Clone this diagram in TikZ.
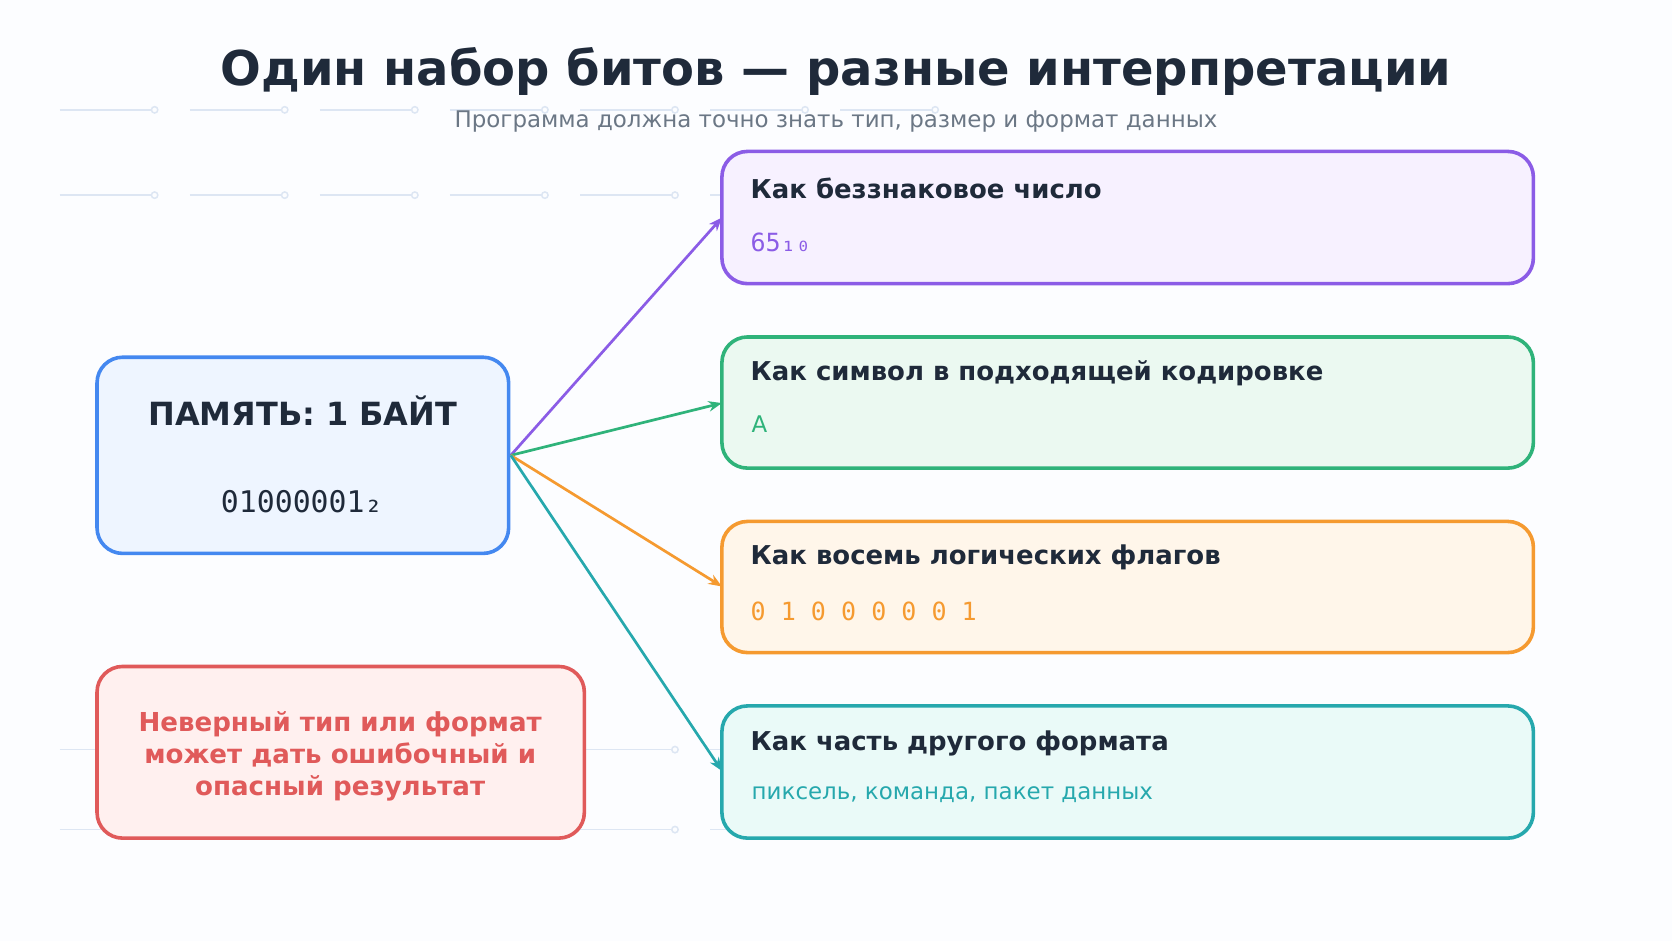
\documentclass[tikz,border=0pt]{standalone}
\usepackage{fontspec}
\setmainfont{DejaVu Sans}
\setmonofont{DejaVu Sans Mono}
\usepackage{tikz}
\usetikzlibrary{calc, arrows.meta}

\definecolor{ink}{HTML}{1F2A3A}
\definecolor{muted}{HTML}{6B7785}
\definecolor{bgc}{HTML}{FCFDFF}
\definecolor{gridc}{HTML}{DDE6F3}
\definecolor{blueS}{HTML}{4488F0}\definecolor{blueF}{HTML}{EEF5FF}
\definecolor{redS}{HTML}{E05A5A}\definecolor{redF}{HTML}{FFF0EF}
\definecolor{purS}{HTML}{8B5CE6}\definecolor{purF}{HTML}{F7F1FF}
\definecolor{grnS}{HTML}{2FB37A}\definecolor{grnF}{HTML}{EBF9F1}
\definecolor{orgS}{HTML}{F59A30}\definecolor{orgF}{HTML}{FFF6EA}
\definecolor{tealS}{HTML}{26A8AD}\definecolor{tealF}{HTML}{EAFAF8}

\tikzset{
  card/.style={draw=#1S, fill=#1F, line width=2.4pt, rounded corners=0.6cm},
  head/.style={anchor=west, text=ink, font=\fontsize{17.3}{20}\selectfont\bfseries},
  val/.style={anchor=west, font=\fontsize{15.3}{18}\selectfont},
  link/.style={draw=#1S, line width=1.8pt, -{Stealth[length=9pt,width=7pt]}},
  deco/.style={draw=gridc, line width=1pt}
}

\begin{document}
\begin{tikzpicture}[x=0.025cm, y=-0.025cm]
            \fill[bgc] (0,0) rectangle (1568,882);
            \useasboundingbox (0,0) rectangle (1568,882);

            % background tracks
            \foreach \y in {103,183,703,778}
              \foreach \i in {0,...,6} {
                \draw[deco] (56+122*\i,\y) -- (145+122*\i,\y);
                \draw[deco, fill=bgc] (145+122*\i,\y) circle (3);
              }

            \node[text=ink, font=\fontsize{32}{36}\selectfont\bfseries] (title) at (784,67) {Один набор битов — разные интерпретации};
            \node[text=muted, font=\fontsize{15.3}{18}\selectfont] (sub) at (784,114) {Программа должна точно знать тип, размер и формат данных};

            % memory byte
            \draw[card=blue] (91,335) rectangle (477,519);
            \node[text=ink, font=\fontsize{21.3}{24}\selectfont\bfseries] (memT) at (284,385) {ПАМЯТЬ: 1 БАЙТ};
            \node[text=ink, font=\ttfamily\fontsize{19.9}{22}\selectfont] (memV) at (283,470) {01000001₂};
            \coordinate (src) at (479,427);

            % warning
            \draw[card=red] (91,625) rectangle (548,786);
            \node[text=redS, align=center, font=\fontsize{17.4}{21.3}\selectfont\bfseries] (warn) at (319,709)
              {Неверный тип или формат\\может дать ошибочный и\\опасный результат};

            % interpretations
            \draw[card=pur] (677,142) rectangle (1438,266);
            \node[head] (unsT) at (699,177) {Как беззнаковое число};
            \node[val, text=purS, font=\ttfamily\fontsize{16.7}{18}\selectfont] (unsV) at (699,227) {65₁₀};
            \coordinate (unsIn) at (677,204);

            \draw[card=grn] (677,316) rectangle (1438,439);
            \node[head] (chrT) at (699,350) {Как символ в подходящей кодировке};
            \node[val, text=grnS] (chrV) at (700,398) {A};
            \coordinate (chrIn) at (677,378);

            \draw[card=org] (677,489) rectangle (1438,612);
            \node[head] (flgT) at (699,523) {Как восемь логических флагов};
            \node[val, text=orgS, font=\ttfamily\fontsize{16.7}{18}\selectfont] (flgV) at (699,573) {0 1 0 0 0 0 0 1};
            \coordinate (flgIn) at (677,550);

            \draw[card=teal] (677,662) rectangle (1438,786);
            \node[head] (fmtT) at (699,697) {Как часть другого формата};
            \node[val, text=tealS] (fmtV) at (700,745) {пиксель, команда, пакет данных};
            \coordinate (fmtIn) at (677,723);

            \draw[link=pur] (src) -- (unsIn);
            \draw[link=grn] (src) -- (chrIn);
            \draw[link=org] (src) -- (flgIn);
            \draw[link=teal] (src) -- (fmtIn);
        \end{tikzpicture}
\end{document}
